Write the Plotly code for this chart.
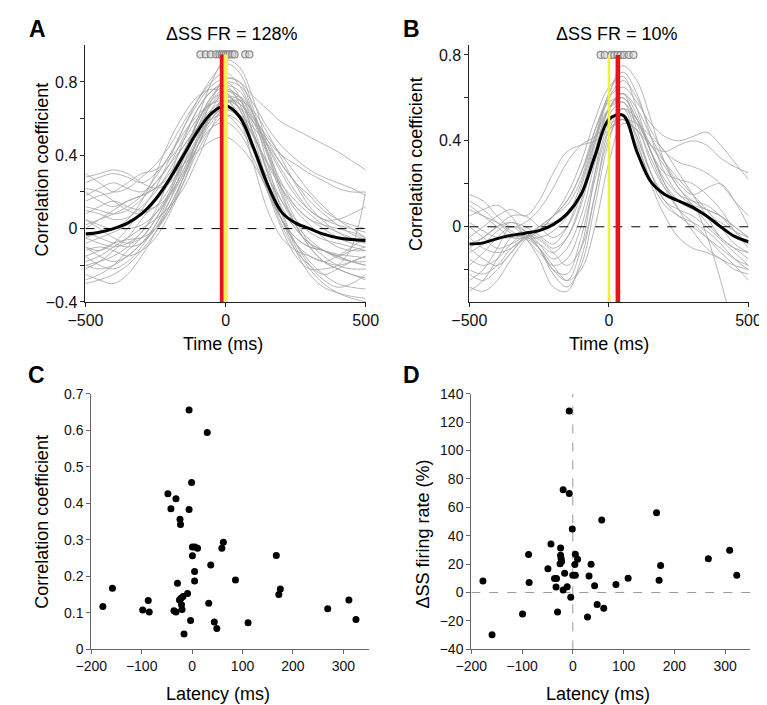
import plotly.graph_objects as go

# ---------------- data ----------------
time_ms = [-500, -450, -400, -350, -300, -250, -200, -150, -100, -50, 0,
           50, 100, 150, 200, 250, 300, 350, 400, 450, 500]

traces_A = [
    [0.30,0.25,0.20,0.22,0.28,0.35,0.45,0.58,0.70,0.80,0.85,0.78,0.62,0.45,0.30,0.18,0.10,0.05,0.02,0.00,-0.02],
    [0.25,0.28,0.30,0.28,0.25,0.30,0.40,0.55,0.68,0.78,0.82,0.80,0.72,0.65,0.58,0.54,0.50,0.46,0.42,0.37,0.32],
    [-0.10,-0.12,-0.08,0.00,0.10,0.22,0.38,0.55,0.70,0.82,0.90,0.85,0.65,0.40,0.18,0.02,-0.10,-0.18,-0.22,-0.25,-0.27],
    [-0.20,-0.18,-0.15,-0.10,-0.02,0.08,0.20,0.35,0.50,0.62,0.70,0.60,0.35,0.10,-0.05,-0.12,-0.15,-0.18,-0.20,-0.18,-0.15],
    [0.05,0.02,0.00,0.05,0.15,0.30,0.48,0.62,0.72,0.76,0.74,0.65,0.50,0.35,0.22,0.12,0.05,0.00,-0.05,-0.08,-0.10],
    [-0.28,-0.25,-0.20,-0.12,-0.05,0.05,0.18,0.32,0.48,0.62,0.72,0.70,0.55,0.30,0.08,-0.10,-0.22,-0.30,-0.35,-0.38,-0.40],
    [0.15,0.18,0.20,0.25,0.30,0.32,0.38,0.48,0.60,0.68,0.72,0.68,0.58,0.48,0.40,0.35,0.30,0.26,0.22,0.20,0.20],
    [-0.05,-0.08,-0.10,-0.08,-0.02,0.10,0.28,0.48,0.65,0.75,0.78,0.68,0.45,0.22,0.05,-0.05,-0.10,-0.12,-0.15,-0.18,-0.20],
    [0.10,0.08,0.05,0.06,0.12,0.20,0.32,0.45,0.55,0.60,0.62,0.55,0.42,0.28,0.15,0.05,-0.02,-0.06,-0.08,-0.10,-0.12],
    [-0.15,-0.20,-0.22,-0.18,-0.10,0.02,0.18,0.38,0.58,0.72,0.80,0.72,0.50,0.25,0.05,-0.08,-0.15,-0.18,-0.15,-0.10,-0.05],
    [0.20,0.15,0.12,0.15,0.18,0.22,0.28,0.35,0.42,0.48,0.50,0.45,0.35,0.22,0.10,0.00,-0.08,-0.12,-0.15,-0.12,-0.10],
    [-0.25,-0.28,-0.30,-0.25,-0.15,-0.02,0.12,0.28,0.45,0.58,0.65,0.60,0.45,0.25,0.05,-0.12,-0.25,-0.32,-0.35,-0.37,-0.38],
    [0.00,0.05,0.10,0.15,0.18,0.22,0.30,0.42,0.58,0.72,0.78,0.75,0.62,0.48,0.35,0.25,0.18,0.10,0.05,0.02,0.00],
    [-0.08,-0.05,-0.02,0.02,0.08,0.15,0.25,0.40,0.60,0.80,0.92,0.88,0.70,0.45,0.22,0.05,-0.08,-0.15,-0.20,-0.22,-0.22],
    [0.12,0.10,0.08,0.10,0.16,0.25,0.35,0.45,0.55,0.62,0.65,0.62,0.55,0.45,0.32,0.20,0.10,0.05,0.05,0.08,0.12],
    [-0.18,-0.15,-0.10,-0.05,0.00,0.05,0.12,0.22,0.38,0.55,0.68,0.72,0.62,0.42,0.20,0.02,-0.10,-0.18,-0.22,-0.25,-0.28],
    [0.05,0.00,-0.05,-0.08,-0.05,0.05,0.20,0.40,0.58,0.70,0.74,0.65,0.45,0.22,0.02,-0.12,-0.20,-0.25,-0.22,-0.18,-0.15],
    [-0.12,-0.10,-0.12,-0.15,-0.12,-0.05,0.08,0.25,0.45,0.62,0.70,0.62,0.42,0.20,0.00,-0.15,-0.22,-0.22,-0.20,-0.10,0.20],
    [0.22,0.20,0.15,0.10,0.08,0.12,0.22,0.38,0.55,0.68,0.75,0.72,0.60,0.42,0.25,0.12,0.05,0.02,0.00,-0.02,-0.05],
    [-0.22,-0.18,-0.12,-0.05,0.05,0.15,0.28,0.42,0.55,0.65,0.70,0.68,0.60,0.50,0.40,0.30,0.20,0.12,0.05,0.00,-0.05],
    [0.08,0.12,0.15,0.12,0.10,0.12,0.18,0.30,0.48,0.65,0.75,0.70,0.52,0.30,0.12,0.00,-0.08,-0.12,-0.15,-0.18,-0.20],
    [-0.02,-0.05,-0.08,-0.10,-0.08,0.00,0.15,0.35,0.55,0.70,0.76,0.72,0.58,0.40,0.22,0.10,0.02,-0.05,-0.10,-0.12,-0.12],
    [-0.30,-0.28,-0.25,-0.20,-0.12,-0.02,0.10,0.25,0.42,0.55,0.62,0.58,0.42,0.22,0.05,-0.08,-0.18,-0.25,-0.30,-0.32,-0.33],
    [0.18,0.22,0.25,0.22,0.20,0.25,0.35,0.50,0.65,0.75,0.80,0.78,0.68,0.55,0.45,0.38,0.32,0.28,0.25,0.22,0.18],
    [-0.10,-0.15,-0.18,-0.15,-0.08,0.02,0.15,0.30,0.45,0.55,0.58,0.52,0.38,0.20,0.05,-0.05,-0.10,-0.12,-0.14,-0.15,-0.16],
    [0.02,0.05,0.08,0.12,0.18,0.28,0.40,0.52,0.62,0.68,0.70,0.66,0.58,0.46,0.35,0.25,0.15,0.08,0.02,-0.03,-0.06],
    [-0.15,-0.12,-0.08,-0.06,-0.05,0.00,0.10,0.28,0.50,0.70,0.82,0.80,0.62,0.35,0.10,-0.08,-0.20,-0.28,-0.32,-0.30,-0.25],
    [0.28,0.30,0.32,0.30,0.25,0.22,0.25,0.35,0.48,0.60,0.66,0.62,0.50,0.36,0.24,0.15,0.08,0.02,-0.02,-0.05,-0.08],
    [-0.05,-0.02,0.00,0.00,0.02,0.08,0.18,0.32,0.48,0.62,0.70,0.66,0.52,0.32,0.15,0.02,-0.06,-0.12,-0.16,-0.18,-0.18],
    [-0.20,-0.22,-0.20,-0.15,-0.08,0.00,0.12,0.28,0.45,0.60,0.68,0.70,0.64,0.52,0.38,0.24,0.12,0.04,-0.02,-0.06,-0.08],
]
mean_A = [-0.03,-0.02,0.00,0.03,0.08,0.16,0.27,0.40,0.53,0.63,0.67,0.61,0.44,0.24,0.09,0.03,0.00,-0.03,-0.05,-0.06,-0.065]

traces_B = [
    [0.10,0.05,0.00,-0.05,-0.05,-0.02,0.05,0.15,0.30,0.50,0.65,0.70,0.55,0.35,0.20,0.12,0.08,0.05,0.00,-0.05,-0.08],
    [-0.10,-0.15,-0.18,-0.12,-0.05,-0.10,-0.20,-0.25,-0.10,0.25,0.55,0.62,0.45,0.25,0.12,0.05,0.00,-0.05,-0.10,-0.15,-0.18],
    [-0.25,-0.20,-0.10,0.00,-0.05,-0.15,-0.28,-0.30,-0.15,0.15,0.45,0.55,0.40,0.20,0.05,-0.05,-0.10,-0.12,-0.15,-0.20,-0.22],
    [0.15,0.12,0.05,0.00,0.02,0.08,0.18,0.30,0.38,0.42,0.48,0.50,0.45,0.38,0.35,0.38,0.40,0.38,0.32,0.28,0.25],
    [-0.05,0.00,0.05,0.08,0.05,0.12,0.25,0.35,0.38,0.40,0.45,0.50,0.48,0.42,0.35,0.25,0.15,0.05,-0.05,-0.10,-0.12],
    [-0.30,-0.25,-0.15,-0.05,-0.02,-0.08,-0.15,-0.10,0.05,0.30,0.52,0.58,0.42,0.25,0.15,0.12,0.10,-0.04,-0.25,-0.48,-0.60],
    [-0.08,-0.05,0.00,0.05,0.05,0.00,-0.05,0.00,0.15,0.40,0.62,0.72,0.62,0.42,0.25,0.15,0.10,0.05,0.02,-0.02,-0.05],
    [0.05,0.08,0.10,0.05,-0.05,-0.12,-0.18,-0.15,0.00,0.25,0.48,0.55,0.48,0.38,0.30,0.22,0.15,0.08,0.00,-0.08,-0.12],
    [-0.15,-0.18,-0.15,-0.08,-0.03,-0.05,-0.10,-0.05,0.10,0.35,0.55,0.60,0.50,0.35,0.25,0.22,0.20,0.15,0.08,-0.02,-0.10],
    [-0.20,-0.22,-0.18,-0.10,-0.05,0.00,0.05,0.12,0.25,0.42,0.55,0.58,0.48,0.30,0.18,0.12,0.10,0.08,0.05,0.00,-0.05],
    [0.00,-0.05,-0.10,-0.08,-0.05,-0.08,-0.12,-0.05,0.12,0.38,0.60,0.68,0.60,0.45,0.35,0.30,0.28,0.25,0.20,0.12,0.05],
    [-0.12,-0.08,-0.02,0.02,-0.02,-0.10,-0.20,-0.22,-0.05,0.22,0.45,0.50,0.38,0.22,0.10,0.05,0.02,-0.02,-0.08,-0.15,-0.20],
    [-0.28,-0.30,-0.25,-0.15,-0.06,0.00,0.02,0.05,0.15,0.35,0.55,0.62,0.52,0.35,0.22,0.15,0.12,0.10,0.05,-0.02,-0.08],
    [0.08,0.05,0.02,-0.02,-0.05,-0.05,-0.02,0.05,0.20,0.42,0.60,0.65,0.58,0.48,0.42,0.40,0.42,0.44,0.38,0.30,0.22],
    [-0.18,-0.12,-0.05,0.00,-0.02,-0.10,-0.22,-0.28,-0.18,0.10,0.40,0.55,0.50,0.35,0.20,0.08,-0.02,-0.10,-0.15,-0.18,-0.20],
    [-0.05,-0.10,-0.12,-0.10,-0.05,0.00,0.05,0.10,0.22,0.45,0.62,0.75,0.68,0.50,0.30,0.18,0.12,0.08,0.05,0.00,-0.05],
    [0.12,0.08,0.02,-0.03,-0.05,-0.02,0.05,0.12,0.25,0.45,0.58,0.60,0.50,0.38,0.28,0.18,0.10,0.02,-0.05,-0.10,-0.15],
    [-0.22,-0.25,-0.20,-0.12,-0.06,-0.10,-0.18,-0.25,-0.20,0.00,0.30,0.48,0.45,0.32,0.18,0.08,0.02,-0.05,-0.12,-0.18,-0.25],
    [-0.10,-0.05,0.00,0.02,0.00,-0.04,-0.08,0.00,0.18,0.40,0.55,0.62,0.55,0.42,0.30,0.20,0.15,0.18,0.20,0.12,0.00],
    [0.02,-0.02,-0.05,-0.05,-0.04,-0.06,-0.12,-0.18,-0.10,0.15,0.42,0.52,0.42,0.25,0.12,0.08,0.05,0.00,-0.06,-0.12,-0.18],
]
mean_B = [-0.08,-0.075,-0.055,-0.04,-0.03,-0.018,0.01,0.06,0.15,0.33,0.50,0.52,0.35,0.21,0.15,0.12,0.09,0.05,0.00,-0.045,-0.07]

# peak latencies of individual cells (circles) and markers
circles_A = [-90, -71, -53, -34, -22, -14, -7, 0, 7, 14, 24, 32, 70, 85]
circles_B = [-30, -15, 8, 19, 31, 42, 54, 71, 88]
circle_level_A = 0.95
circle_level_B = 0.80
red_latency_A = -14
yellow_latency_A = 0
red_latency_B = 32
yellow_latency_B = 0

# Panel C: latency vs correlation coefficient
latency_C = [-177, -158, -98, -87, -85, -48, -42, -32, -36, -32, -29, -24, -23, -25, -22,
             -21, -20, -18, -16, -9, -6, -6, -3, -1, 0.6, 0.6, 5.7, 10.8, 5, 5,
             30, 33, 37, 44, 49, 59, 62, 86, 111, 167, 172, 175, 269, 311, 325]
corr_C = [0.117, 0.167, 0.108, 0.134, 0.102, 0.426, 0.385, 0.412, 0.106, 0.102, 0.181, 0.356, 0.342, 0.135, 0.140,
          0.122, 0.109, 0.145, 0.042, 0.153, 0.383, 0.655, 0.079, 0.457, 0.256, 0.280, 0.280, 0.277, 0.213, 0.187,
          0.594, 0.126, 0.231, 0.075, 0.057, 0.277, 0.293, 0.190, 0.073, 0.257, 0.150, 0.165, 0.111, 0.135, 0.082]

# Panel D: latency vs delta SS firing rate
latency_D = [-177, -159, -99, -87, -86, -49, -43, -36, -33, -32, -30, -25, -24, -24, -23,
             -22, -19, -19, -16, -11, -7, -7, -4, -1, 0, 5, 4, 5, 9.5, 29,
             32, 36, 43, 48, 57, 61, 85, 109, 165, 170, 173, 267, 309, 323]
dss_D = [8.2, -29.8, -15.1, 26.8, 7.1, 16.7, 34.1, 9.8, 3.9, 9.8, -13.7, 20.2, 31.4, 26.3, 24.0,
         21.8, 72.4, 1.8, 13.5, 4.1, 127.8, 69.8, -3.4, 44.7, 12.1, 27.0, 19.7, 12.1, 23.4, -17.2,
         11.7, 19.9, 4.8, -8.5, 51.1, -11.0, 5.7, 10.1, 56.1, 8.7, 19.0, 23.8, 29.8, 12.1]

# ---------------- figure ----------------
W, H = 767, 705
FONT = "Liberation Sans, Arial, Helvetica, sans-serif"


def px(x):
    return x / W


def py(y):
    return 1 - y / H


fig = go.Figure()
GRAY = "#a3a3a3"

# Panel A
for tr in traces_A:
    fig.add_trace(go.Scatter(x=time_ms, y=tr, mode="lines", line=dict(color=GRAY, width=0.8, shape="spline"),
                             xaxis="x", yaxis="y", hoverinfo="skip"))
fig.add_trace(go.Scatter(x=[time_ms[0], time_ms[-1]], y=[0, 0], mode="lines",
                         line=dict(color="black", width=1, dash="dash"), xaxis="x", yaxis="y"))
fig.add_trace(go.Scatter(x=time_ms, y=mean_A, mode="lines", line=dict(color="black", width=3, shape="spline"),
                         xaxis="x", yaxis="y"))
fig.add_trace(go.Scatter(x=circles_A, y=[circle_level_A] * len(circles_A), mode="markers",
                         marker=dict(size=7, color="rgba(210,210,210,0.55)", line=dict(color="#8c8c8c", width=1.2)),
                         xaxis="x", yaxis="y"))
fig.add_trace(go.Scatter(x=[yellow_latency_A] * 2, y=[-0.4, circle_level_A], mode="lines",
                         line=dict(color="#f7ef5a", width=4.5), xaxis="x", yaxis="y"))
fig.add_trace(go.Scatter(x=[red_latency_A] * 2, y=[-0.4, circle_level_A], mode="lines",
                         line=dict(color="#e5141b", width=3.8), xaxis="x", yaxis="y"))

# Panel B
for tr in traces_B:
    fig.add_trace(go.Scatter(x=time_ms, y=tr, mode="lines", line=dict(color=GRAY, width=0.8, shape="spline"),
                             xaxis="x2", yaxis="y2", hoverinfo="skip"))
fig.add_trace(go.Scatter(x=[time_ms[0], time_ms[-1]], y=[0, 0], mode="lines",
                         line=dict(color="black", width=1, dash="dash"), xaxis="x2", yaxis="y2"))
fig.add_trace(go.Scatter(x=time_ms, y=mean_B, mode="lines", line=dict(color="black", width=3, shape="spline"),
                         xaxis="x2", yaxis="y2"))
fig.add_trace(go.Scatter(x=circles_B, y=[circle_level_B] * len(circles_B), mode="markers",
                         marker=dict(size=7, color="rgba(210,210,210,0.55)", line=dict(color="#8c8c8c", width=1.2)),
                         xaxis="x2", yaxis="y2"))
fig.add_trace(go.Scatter(x=[yellow_latency_B] * 2, y=[-0.35, circle_level_B], mode="lines",
                         line=dict(color="#f5ee3a", width=2.6), xaxis="x2", yaxis="y2"))
fig.add_trace(go.Scatter(x=[red_latency_B] * 2, y=[-0.35, circle_level_B], mode="lines",
                         line=dict(color="#e5141b", width=4.6), xaxis="x2", yaxis="y2"))

# Panel C
fig.add_trace(go.Scatter(x=latency_C, y=corr_C, mode="markers", marker=dict(size=7, color="black"),
                         xaxis="x3", yaxis="y3"))

# Panel D
fig.add_trace(go.Scatter(x=[0, 0], y=[-40, 140], mode="lines", line=dict(color="#9a9a9a", width=1, dash="dash"),
                         xaxis="x4", yaxis="y4"))
fig.add_trace(go.Scatter(x=[-200, 350], y=[0, 0], mode="lines", line=dict(color="#9a9a9a", width=1, dash="dash"),
                         xaxis="x4", yaxis="y4"))
fig.add_trace(go.Scatter(x=latency_D, y=dss_D, mode="markers", marker=dict(size=7, color="black"),
                         xaxis="x4", yaxis="y4"))

axis_common = dict(showgrid=False, zeroline=False, showline=True, ticks="outside", ticklen=4, tickwidth=1)
ab_axis = dict(axis_common, linecolor="#222", tickcolor="#222", linewidth=1,
               tickfont=dict(family=FONT, size=16, color="#111"))
cd_axis = dict(axis_common, linecolor="#666", tickcolor="#666", linewidth=1,
               tickfont=dict(family=FONT, size=14, color="#111"))

yA_vals = [-0.4, -0.2, 0, 0.2, 0.4, 0.6, 0.8]
yA_text = ["\u22120.4", "", "0", "", "0.4", "", "0.8"]
yB_vals = [-0.2, 0, 0.2, 0.4, 0.6, 0.8]
yB_text = ["", "0", "", "0.4", "", "0.8"]
x_ab_vals = [-500, 0, 500]
x_ab_text = ["\u2212500", "0", "500"]
x_cd_vals = [-200, -100, 0, 100, 200, 300]
x_cd_text = ["\u2212200", "\u2212100", "0", "100", "200", "300"]
yC_vals = [0, 0.1, 0.2, 0.3, 0.4, 0.5, 0.6, 0.7]
yC_text = ["0", "0.1", "0.2", "0.3", "0.4", "0.5", "0.6", "0.7"]
yD_vals = [-40, -20, 0, 20, 40, 60, 80, 100, 120, 140]
yD_text = ["\u221240", "\u221220", "0", "20", "40", "60", "80", "100", "120", "140"]

fig.update_layout(
    width=W, height=H, margin=dict(l=0, r=0, t=0, b=0), autosize=False,
    paper_bgcolor="white", plot_bgcolor="white", showlegend=False,
    font=dict(family=FONT, color="#111"),
    xaxis=dict(ab_axis, domain=[px(62), px(354)], range=[-500, 500], tickvals=x_ab_vals, ticktext=x_ab_text,
               anchor="y"),
    yaxis=dict(ab_axis, domain=[py(293), py(30)], range=[-0.4, 1.0], tickvals=yA_vals, ticktext=yA_text,
               anchor="x"),
    xaxis2=dict(ab_axis, domain=[px(462), px(753)], range=[-500, 500], tickvals=x_ab_vals, ticktext=x_ab_text,
                anchor="y2"),
    yaxis2=dict(ab_axis, domain=[py(293), py(30)], range=[-0.35, 0.845], tickvals=yB_vals, ticktext=yB_text,
                anchor="x2"),
    xaxis3=dict(cd_axis, domain=[px(68), px(357)], range=[-200, 350], tickvals=x_cd_vals, ticktext=x_cd_text,
                anchor="y3"),
    yaxis3=dict(cd_axis, domain=[py(649), py(387)], range=[0, 0.7], tickvals=yC_vals, ticktext=yC_text,
                anchor="x3"),
    xaxis4=dict(cd_axis, domain=[px(464), px(755)], range=[-200, 350], tickvals=x_cd_vals, ticktext=x_cd_text,
                anchor="y4"),
    yaxis4=dict(cd_axis, domain=[py(649), py(387)], range=[-40, 140], tickvals=yD_vals, ticktext=yD_text,
                anchor="x4"),
)


def ann(text, x, y, size, angle=0, bold=False):
    t = "<b>" + text + "</b>" if bold else text
    fig.add_annotation(text=t, x=px(x), y=py(y), xref="paper", yref="paper", showarrow=False,
                       xanchor="center", yanchor="middle", textangle=angle,
                       font=dict(family=FONT, size=size, color="black"))


# panel letters
ann("A", 12, 13, 23, bold=True)
ann("B", 402, 13, 23, bold=True)
ann("C", 11, 368, 23, bold=True)
ann("D", 402, 368, 23, bold=True)
# titles
ann("\u0394SS FR = 128%", 215, 18, 18)
ann("\u0394SS FR = 10%", 616, 18, 18)
# axis titles
ann("Correlation coefficient", 17, 157, 18, angle=-90)
ann("Time (ms)", 205, 336, 18)
ann("Correlation coefficient", 407, 152, 18, angle=-90)
ann("Time (ms)", 608, 336, 18)
ann("Correlation coefficient", 16, 518, 18, angle=-90)
ann("Latency (ms)", 200, 695, 18)
ann("\u0394SS firing rate (%)", 414, 531, 18, angle=-90)
ann("Latency (ms)", 596, 695, 18)

fig.write_html("out.html")
